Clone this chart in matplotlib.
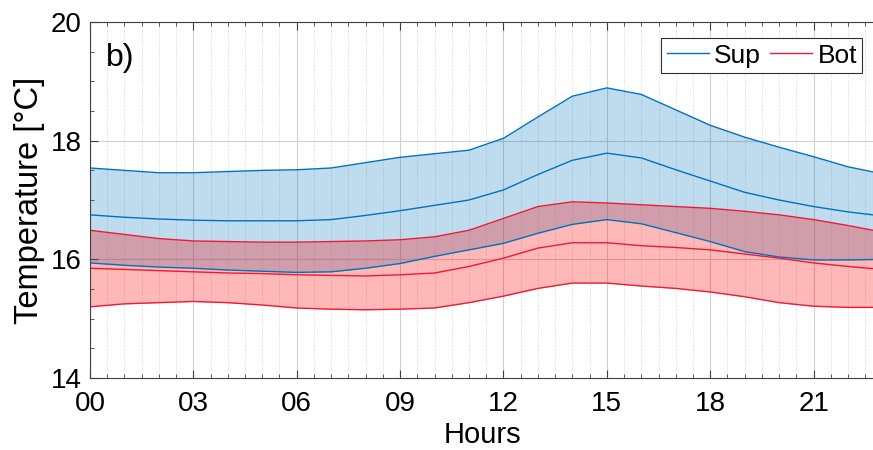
import matplotlib.pyplot as plt
import numpy as np
from matplotlib.ticker import MultipleLocator

plt.rcParams['font.family'] = ['Liberation Sans', 'DejaVu Sans']

hours = [0, 1, 2, 3, 4, 5, 6, 7, 8, 9, 10, 11, 12, 13, 14, 15, 16, 17, 18, 19, 20, 21, 22, 23]

sup_hi = [17.54, 17.50, 17.46, 17.46, 17.48, 17.50, 17.51, 17.54, 17.63, 17.72, 17.78, 17.84, 18.04,
          18.40, 18.75, 18.89, 18.78, 18.52, 18.26, 18.06, 17.89, 17.73, 17.56, 17.44]
sup_mid = [16.75, 16.71, 16.68, 16.66, 16.65, 16.65, 16.65, 16.67, 16.74, 16.82, 16.91, 17.00, 17.17,
           17.43, 17.67, 17.79, 17.71, 17.51, 17.32, 17.13, 17.00, 16.89, 16.80, 16.73]
sup_lo = [15.94, 15.90, 15.87, 15.85, 15.82, 15.80, 15.78, 15.79, 15.85, 15.93, 16.05, 16.16, 16.27,
          16.44, 16.59, 16.67, 16.60, 16.45, 16.30, 16.13, 16.04, 15.99, 15.99, 16.00]

bot_hi = [16.49, 16.42, 16.35, 16.31, 16.30, 16.29, 16.29, 16.30, 16.31, 16.33, 16.38, 16.49, 16.69,
          16.89, 16.97, 16.95, 16.92, 16.89, 16.86, 16.81, 16.75, 16.67, 16.57, 16.46]
bot_mid = [15.85, 15.83, 15.81, 15.79, 15.77, 15.76, 15.74, 15.73, 15.72, 15.74, 15.77, 15.88, 16.02,
           16.19, 16.28, 16.28, 16.23, 16.20, 16.16, 16.09, 16.02, 15.94, 15.88, 15.83]
bot_lo = [15.20, 15.25, 15.27, 15.29, 15.27, 15.23, 15.18, 15.16, 15.15, 15.16, 15.18, 15.27, 15.38,
          15.51, 15.60, 15.60, 15.55, 15.51, 15.45, 15.37, 15.27, 15.21, 15.19, 15.19]

xticks = [0, 3, 6, 9, 12, 15, 18, 21]
xlabels = ['00', '03', '06', '09', '12', '15', '18', '21']

blue = (0.0, 0.447, 0.741)
red = (0.93, 0.1, 0.2)

fig = plt.figure(figsize=(8.73, 4.5), dpi=100)
ax = fig.add_axes([0.103, 0.16, 0.9, 0.791])

ax.fill_between(hours, sup_lo, sup_hi, color=blue, alpha=0.25, linewidth=0)
ax.fill_between(hours, bot_lo, bot_hi, color=(1.0, 0.0, 0.0), alpha=0.28, linewidth=0)
for s in (sup_hi, sup_mid, sup_lo):
    ax.plot(hours, s, color=blue, lw=1.0)
for s in (bot_hi, bot_mid, bot_lo):
    ax.plot(hours, s, color=red, lw=1.0)

l1, = ax.plot([], [], color=blue, lw=1.0, label='Sup')
l2, = ax.plot([], [], color=red, lw=1.0, label='Bot')

ax.set_xlim(0, 22.8)
ax.set_ylim(14, 20)
ax.set_xticks(xticks)
ax.set_xticklabels(xlabels)
ax.set_yticks([14, 16, 18, 20])
ax.xaxis.set_minor_locator(MultipleLocator(0.5))
ax.yaxis.set_minor_locator(MultipleLocator(0.5))
ax.tick_params(which='both', direction='in', top=True, right=False, labelsize=20, color='#404040')
ax.tick_params(which='major', length=6)
ax.tick_params(which='minor', length=3)
ax.tick_params(axis='x', pad=9.5)
ax.tick_params(axis='y', pad=6)
ax.grid(which='major', color='#d0d0d0', lw=0.8)
ax.grid(which='minor', axis='x', color='#c8c8c8', lw=0.6, ls=(0, (1, 2)))
ax.set_axisbelow(True)
for sp in ax.spines.values():
    sp.set_color('#404040')
ax.spines['right'].set_visible(False)

ax.set_xlabel('Hours', fontsize=21, labelpad=3)
ax.set_ylabel('Temperature [°C]', fontsize=23.5, labelpad=4)
ax.text(0.02, 0.9, 'b)', transform=ax.transAxes, fontsize=23, va='center')

leg = ax.legend(handles=[l1, l2], loc='upper right', ncol=2, fontsize=19, frameon=True,
                fancybox=False, edgecolor='#303030', framealpha=1, handlelength=1.6,
                handletextpad=0.2, columnspacing=0.35, borderpad=0.2,
                bbox_to_anchor=(1.0, 0.991))
leg.get_frame().set_linewidth(0.8)

fig.savefig('out.png', dpi=100)
